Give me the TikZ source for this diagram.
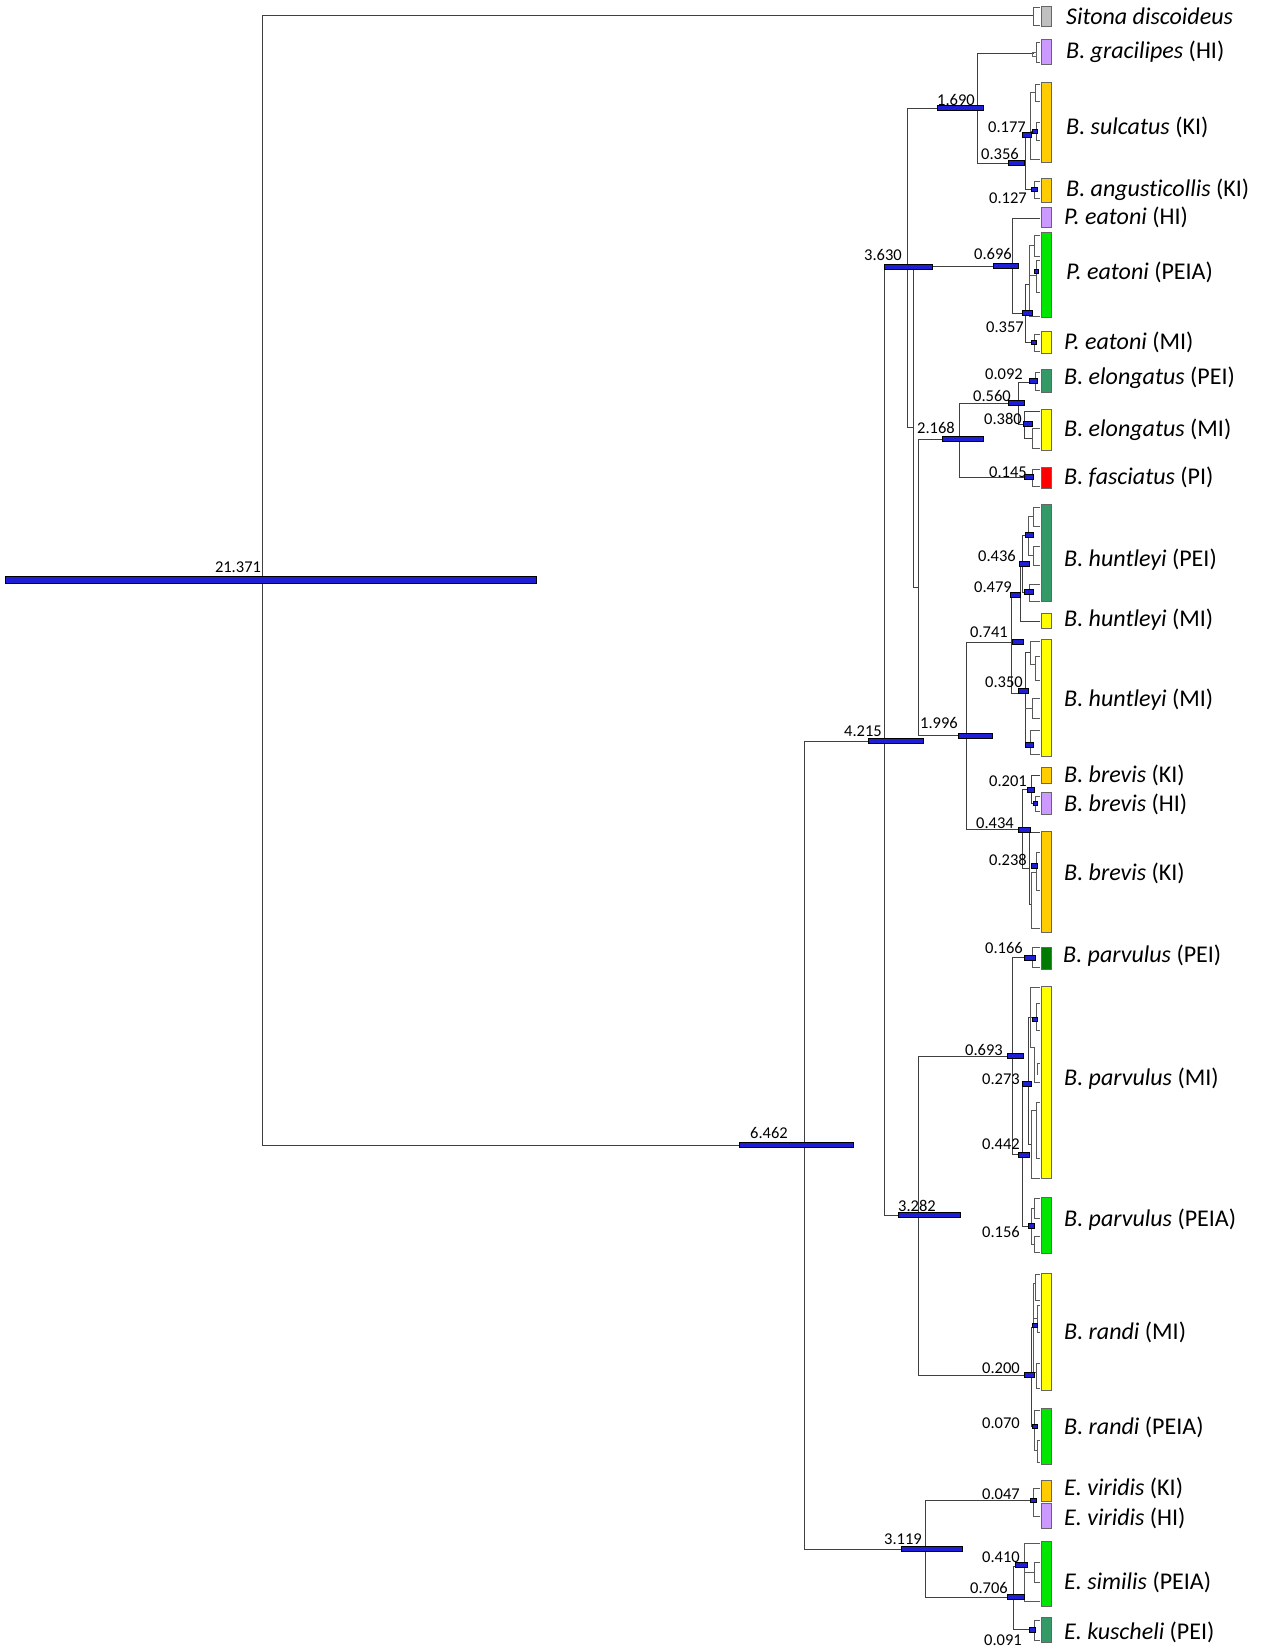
\documentclass[tikz,border=0pt]{standalone}
\usepackage{fontspec}
\setmainfont{Carlito}[Ligatures={NoCommon}]
\definecolor{hpdblue}{RGB}{30,30,215}
\definecolor{colHI}{RGB}{204,153,255}
\definecolor{colKI}{RGB}{255,204,0}
\definecolor{colPEIA}{RGB}{0,230,0}
\definecolor{colMI}{RGB}{255,255,0}
\definecolor{colPEI}{RGB}{51,153,102}
\definecolor{colPI}{RGB}{255,0,0}
\definecolor{colPEIdk}{RGB}{0,122,0}
\definecolor{colOut}{RGB}{192,192,192}
\begin{document}
\begin{tikzpicture}[x=1pt,y=-1pt,
	branch/.style={draw=black!75, line width=1pt},
	twig/.style={draw=black!65, line width=0.8pt},
	hpd/.style={draw=black, line width=0.8pt, fill=hpdblue, inner sep=0pt, minimum height=5pt},
	tipbox/.style={draw=black!60, line width=0.8pt, inner sep=0pt, minimum width=10pt},
	age/.style={font=\fontsize{16.5}{19}\selectfont, text=black, inner sep=0pt},
	taxon/.style={font=\fontsize{24}{28}\selectfont, text=black, anchor=west, inner sep=0pt}]
	\useasboundingbox (0,0) rectangle (1261,1649);
	% tree nodes
	\coordinate (nR) at (262,580);
	\coordinate (n6462) at (804,1145);
	\coordinate (n4215) at (884,741);
	\coordinate (n3630) at (907,267);
	\coordinate (nX) at (913,427);
	\coordinate (nY) at (918,587);
	\coordinate (n1690) at (977,108);
	\coordinate (n0356) at (1025,163);
	\coordinate (n0177) at (1030,136);
	\coordinate (n0127) at (1034,189);
	\coordinate (n0696) at (1012,266);
	\coordinate (n0357) at (1025,313);
	\coordinate (nEatPEIA) at (1029,284);
	\coordinate (nEatMI) at (1034,342);
	\coordinate (n2168) at (959,439);
	\coordinate (n0560) at (1018,403);
	\coordinate (n0092) at (1035,382);
	\coordinate (n0380) at (1024,424);
	\coordinate (nElMI) at (1032,438);
	\coordinate (n0145) at (1032,477);
	\coordinate (n1996) at (966,735);
	\coordinate (n0741) at (1011,642);
	\coordinate (n0479) at (1020,594);
	\coordinate (n0436) at (1022,563);
	\coordinate (nHuA) at (1028,535);
	\coordinate (nHuB) at (1029,592);
	\coordinate (n0350) at (1025,693);
	\coordinate (nHuC) at (1030,652);
	\coordinate (nHuD) at (1030,742);
	\coordinate (n0434) at (1022,829);
	\coordinate (n0201) at (1031,789);
	\coordinate (nBrHI) at (1035,803);
	\coordinate (n0238) at (1029,868);
	\coordinate (nBrKI) at (1031,904);
	\coordinate (n3282) at (918,1215);
	\coordinate (n0693) at (1012,1056);
	\coordinate (n0166) at (1032,957);
	\coordinate (n0442) at (1022,1154);
	\coordinate (n0273) at (1028,1083);
	\coordinate (nPaA) at (1030,1017);
	\coordinate (nPaB) at (1031,1144);
	\coordinate (n0156) at (1031,1226);
	\coordinate (n0200) at (1031,1375);
	\coordinate (nRaMI) at (1033,1327);
	\coordinate (n0070) at (1034,1426);
	\coordinate (n3119) at (925,1549);
	\coordinate (n0047) at (1033,1500);
	\coordinate (n0706) at (1013,1597);
	\coordinate (n0410) at (1024,1566);
	\coordinate (n0091) at (1034,1629);
	% tips
	\coordinate (tSit) at (1033,15);
	\coordinate (tGrac) at (1034,53);
	\coordinate (tEatHI) at (1040,218);
	\coordinate (tElMI) at (1040,411);
	\coordinate (tHuMI) at (1040,621);
	\coordinate (tBrKI) at (1040,775);
	\coordinate (tBrKIb) at (1040,832);
	% branches
	\draw[branch] (nR) |- (tSit);
	\draw[branch] (nR) |- (n6462);
	\draw[branch] (n6462) |- (n4215);
	\draw[branch] (n6462) |- (n3119);
	\draw[branch] (n4215) |- (n3630);
	\draw[branch] (n4215) |- (n3282);
	\draw[branch] (n3630) |- (n1690);
	\draw[branch] (n3630) |- (nX);
	\draw[branch] (nX) |- (n0696);
	\draw[branch] (nX) |- (nY);
	\draw[branch] (nY) |- (n2168);
	\draw[branch] (nY) |- (n1996);
	\draw[branch] (n1690) |- (tGrac);
	\draw[branch] (n1690) |- (n0356);
	\draw[branch] (n0356) |- (n0177);
	\draw[branch] (n0356) |- (n0127);
	\draw[branch] (n0696) |- (tEatHI);
	\draw[branch] (n0696) |- (n0357);
	\draw[branch] (n0357) |- (nEatPEIA);
	\draw[branch] (n0357) |- (nEatMI);
	\draw[branch] (n2168) |- (n0560);
	\draw[branch] (n2168) |- (n0145);
	\draw[branch] (n0560) |- (n0092);
	\draw[branch] (n0560) |- (n0380);
	\draw[branch] (n0380) |- (tElMI);
	\draw[branch] (n0380) |- (nElMI);
	\draw[branch] (n1996) |- (n0741);
	\draw[branch] (n1996) |- (n0434);
	\draw[branch] (n0741) |- (n0479);
	\draw[branch] (n0741) |- (n0350);
	\draw[branch] (n0479) |- (n0436);
	\draw[branch] (n0479) |- (tHuMI);
	\draw[branch] (n0436) |- (nHuA);
	\draw[branch] (n0436) |- (nHuB);
	\draw[branch] (n0350) |- (nHuC);
	\draw[branch] (n0350) |- (nHuD);
	\draw[branch] (n0434) |- (n0201);
	\draw[branch] (n0434) |- (n0238);
	\draw[branch] (n0201) |- (tBrKI);
	\draw[branch] (n0201) |- (nBrHI);
	\draw[branch] (n0238) |- (tBrKIb);
	\draw[branch] (n0238) |- (nBrKI);
	\draw[branch] (n3282) |- (n0693);
	\draw[branch] (n3282) |- (n0200);
	\draw[branch] (n0693) |- (n0166);
	\draw[branch] (n0693) |- (n0442);
	\draw[branch] (n0442) |- (n0273);
	\draw[branch] (n0442) |- (n0156);
	\draw[branch] (n0273) |- (nPaA);
	\draw[branch] (n0273) |- (nPaB);
	\draw[branch] (n0200) |- (nRaMI);
	\draw[branch] (n0200) |- (n0070);
	\draw[branch] (n3119) |- (n0047);
	\draw[branch] (n3119) |- (n0706);
	\draw[branch] (n0706) |- (n0410);
	\draw[branch] (n0706) |- (n0091);
	% small brackets inside the clades
	\draw[twig] (1040,7) -| (1033,25) -- (1040,25);
	\draw[twig] (1040,42) -| (1036,62) -- (1040,62);
	\draw[twig] (1030,92) -- (1030,159) -- (1040,159);
	\draw[twig] (1030,92) -- (1035,92);
	\draw[twig] (1040,84) -| (1035,101) -- (1040,101);
	\draw[twig] (1030,131) -- (1036,131);
	\draw[twig] (1040,122) -| (1036,140) -- (1040,140);
	\draw[twig] (1040,181) -| (1034,198) -- (1040,198);
	\draw[twig] (1029,245) -- (1029,316) -- (1040,316);
	\draw[twig] (1029,245) -- (1034,245);
	\draw[twig] (1040,235) -| (1034,256) -- (1040,256);
	\draw[twig] (1029,275) -- (1036,275);
	\draw[twig] (1040,260) -| (1036,292) -- (1040,292);
	\draw[twig] (1040,334) -| (1034,351) -- (1040,351);
	\draw[twig] (1040,372) -| (1035,390) -- (1040,390);
	\draw[twig] (1040,428) -| (1032,448) -- (1040,448);
	\draw[twig] (1040,469) -| (1032,486) -- (1040,486);
	\draw[twig] (1028,516) -- (1028,555);
	\draw[twig] (1028,516) -- (1033,516);
	\draw[twig] (1040,507) -| (1033,526) -- (1040,526);
	\draw[twig] (1028,555) -- (1033,555);
	\draw[twig] (1040,546) -| (1033,565) -- (1040,565);
	\draw[twig] (1040,584) -| (1029,601) -- (1040,601);
	\draw[twig] (1040,641) -| (1030,664) -- (1035,664);
	\draw[twig] (1040,656) -| (1035,680) -- (1040,680);
	\draw[twig] (1025,708) -- (1032,708);
	\draw[twig] (1040,698) -| (1032,718) -- (1040,718);
	\draw[twig] (1040,730) -| (1030,754) -- (1040,754);
	\draw[twig] (1040,796) -| (1035,811) -- (1040,811);
	\draw[twig] (1031,872) -- (1031,928) -- (1040,928);
	\draw[twig] (1031,872) -- (1036,872);
	\draw[twig] (1040,852) -| (1036,890) -- (1040,890);
	\draw[twig] (1040,947) -| (1032,967) -- (1040,967);
	\draw[twig] (1040,987) -| (1030,1047) -- (1034,1047);
	\draw[twig] (1030,1017) -- (1035,1017);
	\draw[twig] (1040,1003) -| (1036,1030) -- (1040,1030);
	\draw[twig] (1034,1047) -- (1034,1082) -- (1040,1082);
	\draw[twig] (1040,1063) -| (1037,1075);
	\draw[twig] (1031,1110) -- (1031,1178) -- (1040,1178);
	\draw[twig] (1031,1110) -- (1036,1110);
	\draw[twig] (1040,1102) -| (1036,1158) -- (1040,1158);
	\draw[twig] (1031,1208) -- (1031,1244);
	\draw[twig] (1031,1208) -- (1034,1208);
	\draw[twig] (1040,1198) -| (1034,1218) -- (1040,1218);
	\draw[twig] (1031,1244) -- (1034,1244);
	\draw[twig] (1040,1236) -| (1034,1252) -- (1040,1252);
	\draw[twig] (1033,1283) -- (1033,1372);
	\draw[twig] (1033,1283) -- (1035,1283);
	\draw[twig] (1040,1274) -| (1035,1300) -- (1040,1300);
	\draw[twig] (1033,1318) -- (1037,1318);
	\draw[twig] (1040,1305) -| (1037,1332) -- (1040,1332);
	\draw[twig] (1033,1372) -- (1036,1372);
	\draw[twig] (1040,1363) -| (1036,1388) -- (1040,1388);
	\draw[twig] (1040,1410) -| (1034,1450) -- (1037,1450);
	\draw[twig] (1040,1440) -| (1037,1462) -- (1040,1462);
	\draw[twig] (1040,1488) -| (1033,1516) -- (1040,1516);
	\draw[twig] (1040,1543) -| (1024,1601) -- (1040,1601);
	\draw[twig] (1024,1572) -- (1034,1572);
	\draw[twig] (1040,1562) -| (1034,1582) -- (1040,1582);
	\draw[twig] (1040,1620) -| (1034,1640) -- (1040,1640);
	% age bars
	\node[hpd, minimum width=531pt, minimum height=6.5pt] (h21371) at (271,580) {};
	\node[hpd, minimum width=114pt] (h6462) at (796,1145) {};
	\node[hpd, minimum width=55pt] (h4215) at (895.5,741) {};
	\node[hpd, minimum width=48pt] (h3630) at (908,267) {};
	\node[hpd, minimum width=46pt] (h1690) at (960,108) {};
	\node[hpd, minimum width=25pt] (h0696) at (1005.5,266) {};
	\node[hpd, minimum width=41pt] (h2168) at (962.5,439) {};
	\node[hpd, minimum width=34pt] (h1996) at (975,735.5) {};
	\node[hpd, minimum width=62pt] (h3282) at (929,1215) {};
	\node[hpd, minimum width=61pt] (h3119) at (931.5,1549) {};
	\node[hpd, minimum width=16pt] (h0356) at (1016,163) {};
	\node[hpd, minimum width=9pt] (h0177) at (1026.5,135) {};
	\node[hpd, minimum width=6pt, minimum height=4pt] (h0127) at (1034,189.5) {};
	\node[hpd, minimum width=10pt] (h0357) at (1027,313) {};
	\node[hpd, minimum width=8pt] (h0092) at (1033,380.5) {};
	\node[hpd, minimum width=16pt] (h0560) at (1016,403) {};
	\node[hpd, minimum width=9pt] (h0380) at (1027.5,424) {};
	\node[hpd, minimum width=9pt] (h0145) at (1028.5,476.5) {};
	\node[hpd, minimum width=10pt] (h0436) at (1024,563.5) {};
	\node[hpd, minimum width=10pt] (h0479) at (1015,594.5) {};
	\node[hpd, minimum width=11pt] (h0741) at (1017.5,642) {};
	\node[hpd, minimum width=10pt] (h0350) at (1023,691) {};
	\node[hpd, minimum width=7pt] (h0201) at (1030.5,789.5) {};
	\node[hpd, minimum width=12pt] (h0434) at (1024,829.5) {};
	\node[hpd, minimum width=6pt] (h0238) at (1034,866) {};
	\node[hpd, minimum width=11pt] (h0166) at (1029.5,957.5) {};
	\node[hpd, minimum width=16pt] (h0693) at (1015,1056) {};
	\node[hpd, minimum width=9pt] (h0273) at (1026.5,1083.5) {};
	\node[hpd, minimum width=11pt] (h0442) at (1023.5,1154.5) {};
	\node[hpd, minimum width=6pt] (h0156) at (1031,1225.5) {};
	\node[hpd, minimum width=10pt] (h0200) at (1029,1375) {};
	\node[hpd, minimum width=5pt, minimum height=4pt] (h0070) at (1034.5,1426) {};
	\node[hpd, minimum width=6pt, minimum height=4pt] (h0047) at (1033,1500) {};
	\node[hpd, minimum width=12pt] (h0410) at (1021,1565) {};
	\node[hpd, minimum width=17pt] (h0706) at (1015.5,1597) {};
	\node[hpd, minimum width=6pt] (h0091) at (1032,1629.5) {};
	\node[hpd, minimum width=5pt, minimum height=4pt] (hSulc) at (1035,131) {};
	\node[hpd, minimum width=4pt, minimum height=4pt] (hEatA) at (1036,271) {};
	\node[hpd, minimum width=5pt, minimum height=4pt] (hEatMI) at (1034,342) {};
	\node[hpd, minimum width=8pt] (hHuA) at (1029,535) {};
	\node[hpd, minimum width=9pt] (hHuB) at (1028.5,592) {};
	\node[hpd, minimum width=8pt] (hHuD) at (1029,745) {};
	\node[hpd, minimum width=4pt, minimum height=4pt] (hBrHI) at (1035,803.5) {};
	\node[hpd, minimum width=5pt, minimum height=4pt] (hPaA) at (1035,1019) {};
	\node[hpd, minimum width=5pt, minimum height=4pt] (hRaMI) at (1035,1325) {};
	\node[draw=black!60, line width=0.6pt, inner sep=0pt, minimum width=4pt, minimum height=4pt] (hGrac) at (1034,54) {};
	% age labels
	\node[age] (l21371) at (238,567) {21.371};
	\node[age] (l6462) at (769,1133) {6.462};
	\node[age] (l4215) at (863,731) {4.215};
	\node[age] (l3630) at (883,255) {3.630};
	\node[age] (l1690) at (956,100) {1.690};
	\node[age] (l0696) at (993,254) {0.696};
	\node[age] (l2168) at (936,428) {2.168};
	\node[age] (l1996) at (939,723) {1.996};
	\node[age] (l3282) at (917,1206) {3.282};
	\node[age] (l3119) at (903,1539) {3.119};
	\node[age] (l0356) at (1000,154) {0.356};
	\node[age] (l0177) at (1007,127) {0.177};
	\node[age] (l0127) at (1008,198) {0.127};
	\node[age] (l0357) at (1005,327) {0.357};
	\node[age] (l0092) at (1004,374) {0.092};
	\node[age] (l0560) at (992,396) {0.560};
	\node[age] (l0380) at (1003,419) {0.380};
	\node[age] (l0145) at (1008,472) {0.145};
	\node[age] (l0436) at (997,556) {0.436};
	\node[age] (l0479) at (993,587) {0.479};
	\node[age] (l0741) at (989,632) {0.741};
	\node[age] (l0350) at (1004,682) {0.350};
	\node[age] (l0201) at (1008,781) {0.201};
	\node[age] (l0434) at (995,823) {0.434};
	\node[age] (l0238) at (1008,860) {0.238};
	\node[age] (l0166) at (1004,948) {0.166};
	\node[age] (l0693) at (984,1050) {0.693};
	\node[age] (l0273) at (1001,1079) {0.273};
	\node[age] (l0442) at (1001,1144) {0.442};
	\node[age] (l0156) at (1001,1232) {0.156};
	\node[age] (l0200) at (1001,1368) {0.200};
	\node[age] (l0070) at (1001,1423) {0.070};
	\node[age] (l0047) at (1001,1494) {0.047};
	\node[age] (l0410) at (1001,1557) {0.410};
	\node[age] (l0706) at (989,1588) {0.706};
	\node[age] (l0091) at (1003,1640) {0.091};
	% coloured tip boxes
	\node[tipbox, fill=colOut, minimum height=20pt] (bSit) at (1046,16) {};
	\node[tipbox, fill=colHI, minimum height=25pt] (bGrac) at (1046,51.5) {};
	\node[tipbox, fill=colKI, minimum height=80pt] (bSulc) at (1046,122) {};
	\node[tipbox, fill=colKI, minimum height=24pt] (bAng) at (1046,190) {};
	\node[tipbox, fill=colHI, minimum height=20pt] (bEatHI) at (1046,217) {};
	\node[tipbox, fill=colPEIA, minimum height=85pt] (bEatPEIA) at (1046,274.5) {};
	\node[tipbox, fill=colMI, minimum height=22pt] (bEatMI) at (1046,342) {};
	\node[tipbox, fill=colPEI, minimum height=23pt] (bElPEI) at (1046,380.5) {};
	\node[tipbox, fill=colMI, minimum height=41pt] (bElMI) at (1046,429.5) {};
	\node[tipbox, fill=colPI, minimum height=21pt] (bFas) at (1046,477.5) {};
	\node[tipbox, fill=colPEI, minimum height=97pt] (bHuPEI) at (1046,552.5) {};
	\node[tipbox, fill=colMI, minimum height=15pt] (bHuMI) at (1046,620.5) {};
	\node[tipbox, fill=colMI, minimum height=117pt] (bHuMIb) at (1046,697.5) {};
	\node[tipbox, fill=colKI, minimum height=16pt] (bBrKI) at (1046,775) {};
	\node[tipbox, fill=colHI, minimum height=22pt] (bBrHI) at (1046,803) {};
	\node[tipbox, fill=colKI, minimum height=101pt] (bBrKIb) at (1046,881.5) {};
	\node[tipbox, fill=colPEIdk, minimum height=22pt] (bPaPEI) at (1046,958) {};
	\node[tipbox, fill=colMI, minimum height=192pt] (bPaMI) at (1046,1082) {};
	\node[tipbox, fill=colPEIA, minimum height=56pt] (bPaPEIA) at (1046,1225) {};
	\node[tipbox, fill=colMI, minimum height=117pt] (bRaMI) at (1046,1331.5) {};
	\node[tipbox, fill=colPEIA, minimum height=56pt] (bRaPEIA) at (1046,1436) {};
	\node[tipbox, fill=colKI, minimum height=21pt] (bViKI) at (1046,1490.5) {};
	\node[tipbox, fill=colHI, minimum height=25pt] (bViHI) at (1046,1515.5) {};
	\node[tipbox, fill=colPEIA, minimum height=65pt] (bSim) at (1046,1573.5) {};
	\node[tipbox, fill=colPEI, minimum height=25pt] (bKus) at (1046,1629.5) {};
	% taxon names
	\node[taxon] (xSit) at (1066,16) {\textit{Sitona discoideus}};
	\node[taxon] (xGrac) at (1066,52) {\textit{B. gracilipes} (HI)};
	\node[taxon] (xSulc) at (1066,127) {\textit{B. sulcatus} (KI)};
	\node[taxon] (xAng) at (1066,190) {\textit{B. angusticollis} (KI)};
	\node[taxon] (xEatHI) at (1064,217) {\textit{P. eatoni} (HI)};
	\node[taxon] (xEatPEIA) at (1066,272) {\textit{P. eatoni} (PEIA)};
	\node[taxon] (xEatMI) at (1064,342) {\textit{P. eatoni} (MI)};
	\node[taxon] (xElPEI) at (1064,378) {\textit{B. elongatus} (PEI)};
	\node[taxon] (xElMI) at (1064,430) {\textit{B. elongatus} (MI)};
	\node[taxon] (xFas) at (1064,477) {\textit{B. fasciatus} (PI)};
	\node[taxon] (xHuPEI) at (1064,560) {\textit{B. huntleyi} (PEI)};
	\node[taxon] (xHuMI) at (1064,620) {\textit{B. huntleyi} (MI)};
	\node[taxon] (xHuMIb) at (1064,700) {\textit{B. huntleyi} (MI)};
	\node[taxon] (xBrKI) at (1064,775) {\textit{B. brevis} (KI)};
	\node[taxon] (xBrHI) at (1064,804) {\textit{B. brevis} (HI)};
	\node[taxon] (xBrKIb) at (1064,873) {\textit{B. brevis} (KI)};
	\node[taxon] (xPaPEI) at (1063,956) {\textit{B. parvulus} (PEI)};
	\node[taxon] (xPaMI) at (1064,1079) {\textit{B. parvulus} (MI)};
	\node[taxon] (xPaPEIA) at (1064,1220) {\textit{B. parvulus} (PEIA)};
	\node[taxon] (xRaMI) at (1064,1332) {\textit{B. randi} (MI)};
	\node[taxon] (xRaPEIA) at (1064,1427) {\textit{B. randi} (PEIA)};
	\node[taxon] (xViKI) at (1064,1488) {\textit{E. viridis} (KI)};
	\node[taxon] (xViHI) at (1064,1518) {\textit{E. viridis} (HI)};
	\node[taxon] (xSim) at (1064,1582) {\textit{E. similis} (PEIA)};
	\node[taxon] (xKus) at (1064,1632) {\textit{E. kuscheli} (PEI)};
\end{tikzpicture}
\end{document}
